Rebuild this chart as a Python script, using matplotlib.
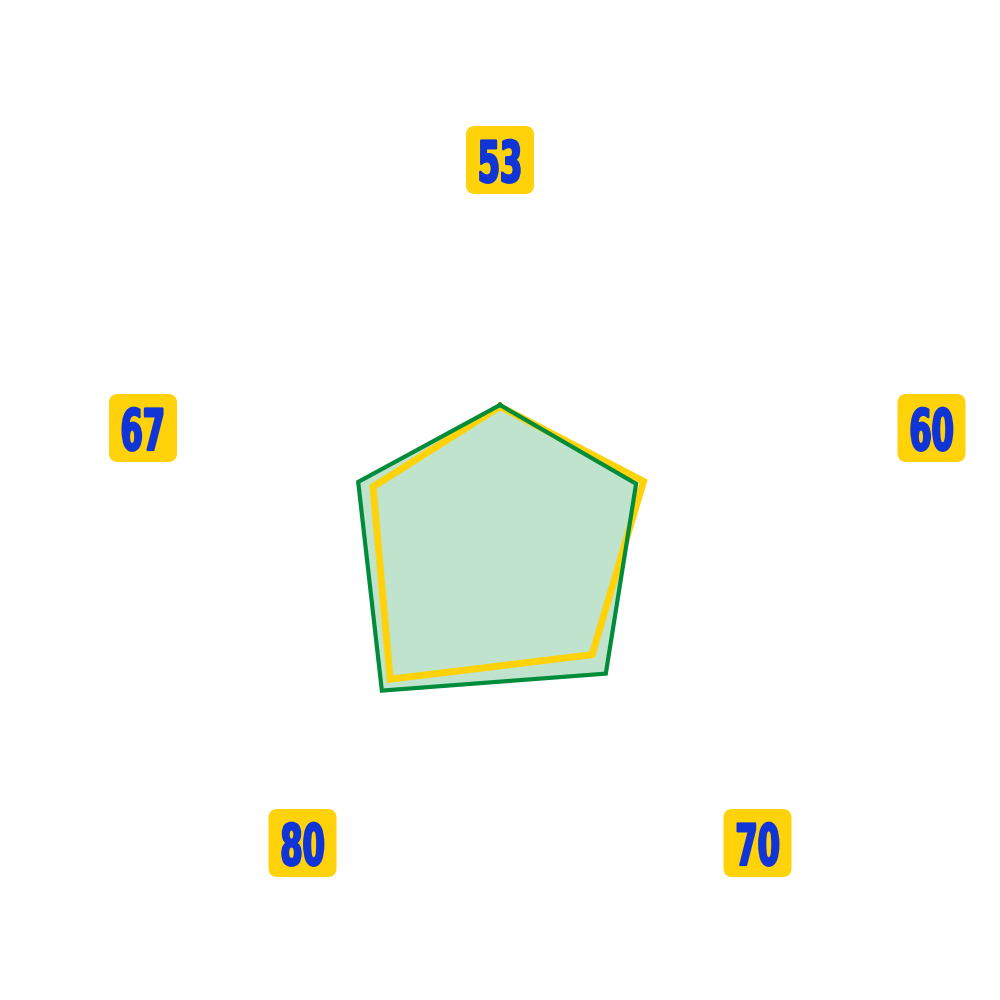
import numpy as np
import matplotlib
matplotlib.use("Agg")
import matplotlib.pyplot as plt
from matplotlib.patches import FancyBboxPatch
from matplotlib.patheffects import AbstractPathEffect
from matplotlib.transforms import Affine2D

# categories clockwise from the top
categories = ["53", "60", "70", "80", "67"]
green_values = [41, 47.7, 60, 67, 49.7]
yellow_values = [40.5, 50.3, 52.2, 62.3, 44.5]

# label box centres in figure pixels (x, y from top)
label_pos = [(500, 160), (931.5, 428), (757.5, 843), (302.5, 843), (143, 428)]


class Narrow(AbstractPathEffect):
    """squeeze glyphs horizontally (and thicken them) to get a heavy condensed look"""
    def __init__(self, sx=0.6, stroke=1.0):
        super().__init__()
        self.sx = sx
        self.stroke = stroke

    def draw_path(self, renderer, gc, tpath, affine, rgbFace=None):
        ext = tpath.get_extents()
        cx = (ext.x0 + ext.x1) / 2
        squeeze = Affine2D().translate(-cx, 0).scale(self.sx, 1).translate(cx, 0)
        gc0 = renderer.new_gc()
        gc0.copy_properties(gc)
        gc0.set_linewidth(self.stroke)
        gc0.set_foreground(rgbFace)
        gc0.set_joinstyle("round")
        renderer.draw_path(gc0, tpath, squeeze + affine, rgbFace)
        gc0.restore()


fig = plt.figure(figsize=(10, 10), dpi=100)
ax = fig.add_axes([0.2, 0.172, 0.6, 0.6], projection="polar")
ax.set_theta_offset(np.pi / 2)
ax.set_theta_direction(-1)
ax.set_ylim(0, 100)
ax.axis("off")

angles = np.linspace(0, 2 * np.pi, len(categories), endpoint=False)
ang = np.append(angles, angles[0])
g = np.append(green_values, green_values[0])
y = np.append(yellow_values, yellow_values[0])

ax.fill(ang, g, color="#c0e3cd", zorder=1)
ax.plot(ang, y, color="#ffd20a", lw=5, zorder=2, solid_joinstyle="miter")
ax.plot(ang, g, color="#008c3a", lw=3, zorder=3, solid_joinstyle="miter")

box = 68
for cat, (px, py) in zip(categories, label_pos):
    fig.patches.append(FancyBboxPatch(
        ((px - box / 2) / 1000, 1 - (py + box / 2) / 1000), box / 1000, box / 1000,
        boxstyle="round,pad=0,rounding_size=0.009", fc="#ffd20a", ec="none",
        transform=fig.transFigure, figure=fig))
    fig.text(px / 1000, 1 - (py + 22) / 1000, cat, ha="center", va="baseline",
             fontsize=41, fontweight="bold", color="#1034d6", family="DejaVu Sans",
             path_effects=[Narrow(0.56, 1.6)])

fig.savefig("out.png", dpi=100)
